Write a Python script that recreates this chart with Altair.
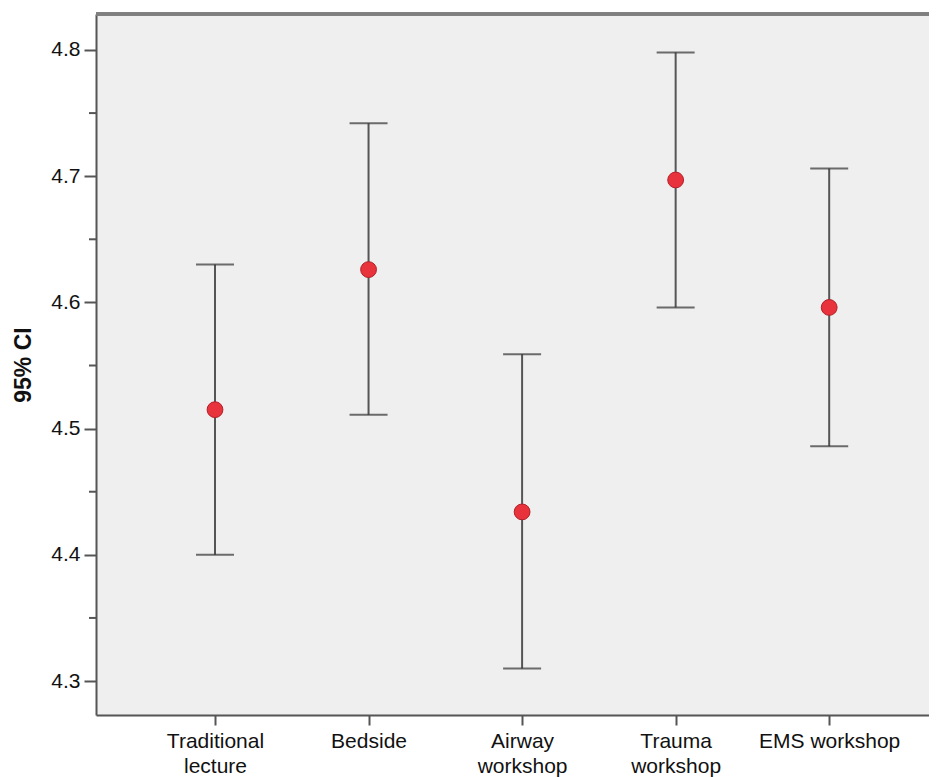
import altair as alt
import pandas as pd

groups = ["Traditional lecture", "Bedside", "Airway workshop", "Trauma workshop", "EMS workshop"]
label_lines = [["Traditional", "lecture"], ["Bedside"], ["Airway", "workshop"], ["Trauma", "workshop"], ["EMS workshop"]]
means = [4.515, 4.626, 4.434, 4.697, 4.596]
lowers = [4.400, 4.511, 4.310, 4.596, 4.486]
uppers = [4.630, 4.742, 4.559, 4.798, 4.706]
minor_ticks = [4.35, 4.45, 4.55, 4.65, 4.75]
major_ticks = [4.3, 4.4, 4.5, 4.6, 4.7, 4.8]

df = pd.DataFrame({
    "idx": list(range(len(groups))),
    "group": groups,
    "mean": means,
    "lower": lowers,
    "upper": uppers,
})
minor_df = pd.DataFrame({"v": minor_ticks})

y_dom = [4.2731, 4.8285]
x_dom = [-0.775, 4.65]

label_expr = " : ".join(
    f"datum.value == {i} ? {repr(lines) if len(lines) > 1 else repr(lines[0])}"
    for i, lines in enumerate(label_lines)
) + " : ''"

x_enc = alt.X(
    "idx:Q",
    scale=alt.Scale(domain=x_dom, nice=False, zero=False),
    axis=alt.Axis(
        values=list(range(len(groups))),
        labelExpr=label_expr,
        title=None,
        grid=False,
        tickSize=10,
        tickWidth=2,
        tickColor="#555555",
        domainColor="#555555",
        domainWidth=2,
        labelFontSize=21,
        labelFont="Liberation Sans",
        labelColor="#111111",
        labelPadding=5,
        labelLineHeight=25,
        labelFlush=False,
        labelOverlap=False,
    ),
)
y_scale = alt.Scale(domain=y_dom, nice=False, zero=False)
y_enc = alt.Y(
    "lower:Q",
    scale=y_scale,
    axis=alt.Axis(
        values=major_ticks,
        format=".1f",
        title="95% CI",
        titleFontSize=23,
        titleFont="Liberation Sans",
        titleFontWeight="bold",
        titleColor="#111111",
        titlePadding=15,
        grid=False,
        tickSize=12,
        tickWidth=2,
        tickColor="#555555",
        domainColor="#555555",
        domainWidth=2,
        labelFontSize=21,
        labelFont="Liberation Sans",
        labelColor="#111111",
        labelPadding=4,
        labelFlush=False,
    ),
)

base = alt.Chart(df)

bars = base.mark_rule(color="#555555", strokeWidth=2).encode(
    x=x_enc, y=y_enc, y2="upper:Q"
)
cap_lo = base.mark_tick(color="#333333", thickness=2, size=38, orient="horizontal").encode(
    x="idx:Q", y="lower:Q"
)
cap_hi = base.mark_tick(color="#333333", thickness=2, size=38, orient="horizontal").encode(
    x="idx:Q", y="upper:Q"
)
points = base.mark_circle(size=250, color="#e8323c", opacity=1, stroke="#b22028", strokeWidth=1).encode(
    x="idx:Q", y="mean:Q"
)
minor = alt.Chart(minor_df).mark_rule(color="#555555", strokeWidth=2).encode(
    y=alt.Y("v:Q", scale=y_scale), x=alt.value(-7), x2=alt.value(0)
)
top_border = base.mark_rule(color="#7f7f7f", strokeWidth=3).encode(
    x=alt.value(0), x2=alt.value(833), y=alt.value(0)
)

chart = alt.layer(bars, cap_lo, cap_hi, points, minor, top_border).properties(
    width=833,
    height=701,
    autosize=alt.AutoSizeParams(type="none"),
    padding={"left": 88, "top": 6, "right": 0, "bottom": 62},
    background="white",
).configure_view(fill="#efefef", stroke=None)

chart.save("out.html", embed_options={"renderer": "svg", "actions": False})
